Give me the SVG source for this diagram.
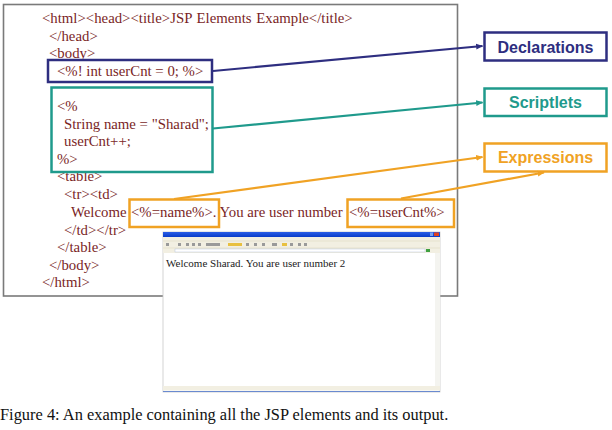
<svg xmlns="http://www.w3.org/2000/svg" width="612" height="430" viewBox="0 0 612 430">
<style>
.code{font-family:"Liberation Serif","Times New Roman",serif;font-size:14.8px;fill:#7a1f1f}
.lbl{font-family:"Liberation Sans",Arial,sans-serif;font-size:16px;font-weight:bold;text-anchor:middle}
.cap{font-family:"Liberation Serif","Times New Roman",serif;font-size:16.4px;fill:#111}
.out{font-family:"Liberation Serif","Times New Roman",serif;font-size:11px;fill:#222}
.box{fill:none;stroke-width:2.5}
.dec{stroke:#2e2e80}
.scr{stroke:#1f9a8c}
.exp{stroke:#f0a224}
</style>
<defs>
<marker id="ad" viewBox="0 0 10 10" refX="9" refY="5" markerWidth="3.2" markerHeight="3.2" orient="auto" markerUnits="strokeWidth"><path d="M0,1 L10,5 L0,9 z" fill="#2e2e80"/></marker>
<marker id="as" viewBox="0 0 10 10" refX="9" refY="5" markerWidth="3.2" markerHeight="3.2" orient="auto" markerUnits="strokeWidth"><path d="M0,1 L10,5 L0,9 z" fill="#1f9a8c"/></marker>
<marker id="ae" viewBox="0 0 10 10" refX="9" refY="5" markerWidth="3.2" markerHeight="3.2" orient="auto" markerUnits="strokeWidth"><path d="M0,1 L10,5 L0,9 z" fill="#f0a224"/></marker>
<linearGradient id="tb" x1="0" y1="0" x2="0" y2="1"><stop offset="0" stop-color="#2a5ee8"/><stop offset="1" stop-color="#0a3cc8"/></linearGradient>
</defs>
<rect width="612" height="430" fill="#fff"/>
<g id="code-frame">
<rect x="3.5" y="4.5" width="454" height="291.5" fill="#fff" stroke="#7a7a7a" stroke-width="1.6"/>
<g class="code">
<text x="42" y="23" word-spacing="1">&lt;html&gt;&lt;head&gt;&lt;title&gt;JSP Elements Example&lt;/title&gt;</text>
<text x="49" y="40.6">&lt;/head&gt;</text>
<text x="49" y="58">&lt;body&gt;</text>
<text x="57" y="75.8">&lt;%! int userCnt = 0; %&gt;</text>
<text x="57" y="111">&lt;%</text>
<text x="64" y="128.6">String name = "Sharad";</text>
<text x="64" y="146">userCnt++;</text>
<text x="57" y="163.8">%&gt;</text>
<text x="57" y="181.4">&lt;table&gt;</text>
<text x="64" y="199">&lt;tr&gt;&lt;td&gt;</text>
<text x="71" y="217">Welcome</text>
<text x="131" y="217">&lt;%=name%&gt;. You are user number</text>
<text x="349" y="217">&lt;%=userCnt%&gt;</text>
<text x="64" y="234.6">&lt;/td&gt;&lt;/tr&gt;</text>
<text x="57" y="252">&lt;/table&gt;</text>
<text x="49" y="269.8">&lt;/body&gt;</text>
<text x="42" y="287.4">&lt;/html&gt;</text>
</g>
</g>
<g id="decl-code"><rect class="box dec" x="48" y="60" width="164" height="22"/></g>
<g id="scriptlet-code"><rect class="box scr" x="51.5" y="87.5" width="161" height="84.5"/></g>
<g id="expr-name"><rect class="box exp" x="129.5" y="199.5" width="89.5" height="27.5"/></g>
<g id="expr-usercnt"><rect class="box exp" x="347.5" y="199.5" width="106.5" height="27.5"/></g>
<g id="declarations"><rect class="box dec" x="484.5" y="32.5" width="122" height="28"/><text class="lbl" x="545.5" y="52.5" fill="#2e2e80">Declarations</text></g>
<g id="scriptlets"><rect class="box scr" x="484.5" y="88.5" width="122" height="27.5"/><text class="lbl" x="545.5" y="108" fill="#1f9a8c">Scriptlets</text></g>
<g id="expressions"><rect class="box exp" x="484.5" y="143.5" width="122" height="28"/><text class="lbl" x="545.5" y="163" fill="#f0a224">Expressions</text></g>
<g id="connectors" fill="none" stroke-width="2.2">
<line x1="213" y1="71" x2="482.5" y2="46" stroke="#2e2e80" marker-end="url(#ad)"/>
<line x1="213" y1="128.5" x2="482.5" y2="102.5" stroke="#1f9a8c" marker-end="url(#as)"/>
<line x1="174" y1="199" x2="482.5" y2="157" stroke="#f0a224" marker-end="url(#ae)"/>
<line x1="401" y1="198.5" x2="544" y2="172.5" stroke="#f0a224" marker-end="url(#ae)"/>
</g>
<g id="browser-output">
<rect x="163" y="232" width="277" height="160" fill="#fff" stroke="#c8c8c8" stroke-width="0.8"/>
<rect x="163" y="232" width="277" height="5" fill="url(#tb)"/>
<rect x="430" y="232.5" width="3" height="3.5" fill="#7aa0f0"/>
<rect x="434" y="232.5" width="5" height="3.5" fill="#e04020"/>
<rect x="163" y="237" width="277" height="16" fill="#f2efe2"/>
<line x1="163" y1="241" x2="440" y2="241" stroke="#ddd8c4" stroke-width="0.6"/>
<line x1="163" y1="248" x2="440" y2="248" stroke="#ddd8c4" stroke-width="0.6"/>
<g fill="#9a9a9a"><rect x="166" y="243" width="3" height="3"/><rect x="178" y="243" width="3" height="3"/><rect x="186" y="243" width="3" height="3"/><rect x="192" y="243" width="3" height="3"/><rect x="198" y="243" width="3" height="3"/><rect x="206" y="243" width="14" height="3"/><rect x="228" y="243" width="14" height="3" fill="#e8c040"/><rect x="246" y="243" width="3" height="3"/><rect x="254" y="243" width="3" height="3"/><rect x="262" y="243" width="3" height="3"/><rect x="272" y="243" width="5" height="3"/><rect x="282" y="243" width="5" height="3" fill="#e8c040"/><rect x="290" y="243" width="3" height="3"/><rect x="298" y="243" width="3" height="3"/><rect x="304" y="243" width="3" height="3"/></g>
<rect x="175" y="249" width="250" height="3" fill="#fff" stroke="#a8b8d8" stroke-width="0.4"/>
<rect x="426" y="249" width="4" height="3" fill="#40a040"/>
<rect x="435" y="253" width="5" height="133" fill="#f4f4f0"/>
<rect x="163" y="386" width="277" height="4.5" fill="#f2efe2"/>
<line x1="163" y1="391.5" x2="440" y2="391.5" stroke="#6a8ad0" stroke-width="1.2"/>
<text class="out" x="166" y="267">Welcome Sharad. You are user number 2</text>
</g>
<text class="cap" x="0" y="420">Figure 4: An example containing all the JSP elements and its output.</text>
</svg>
